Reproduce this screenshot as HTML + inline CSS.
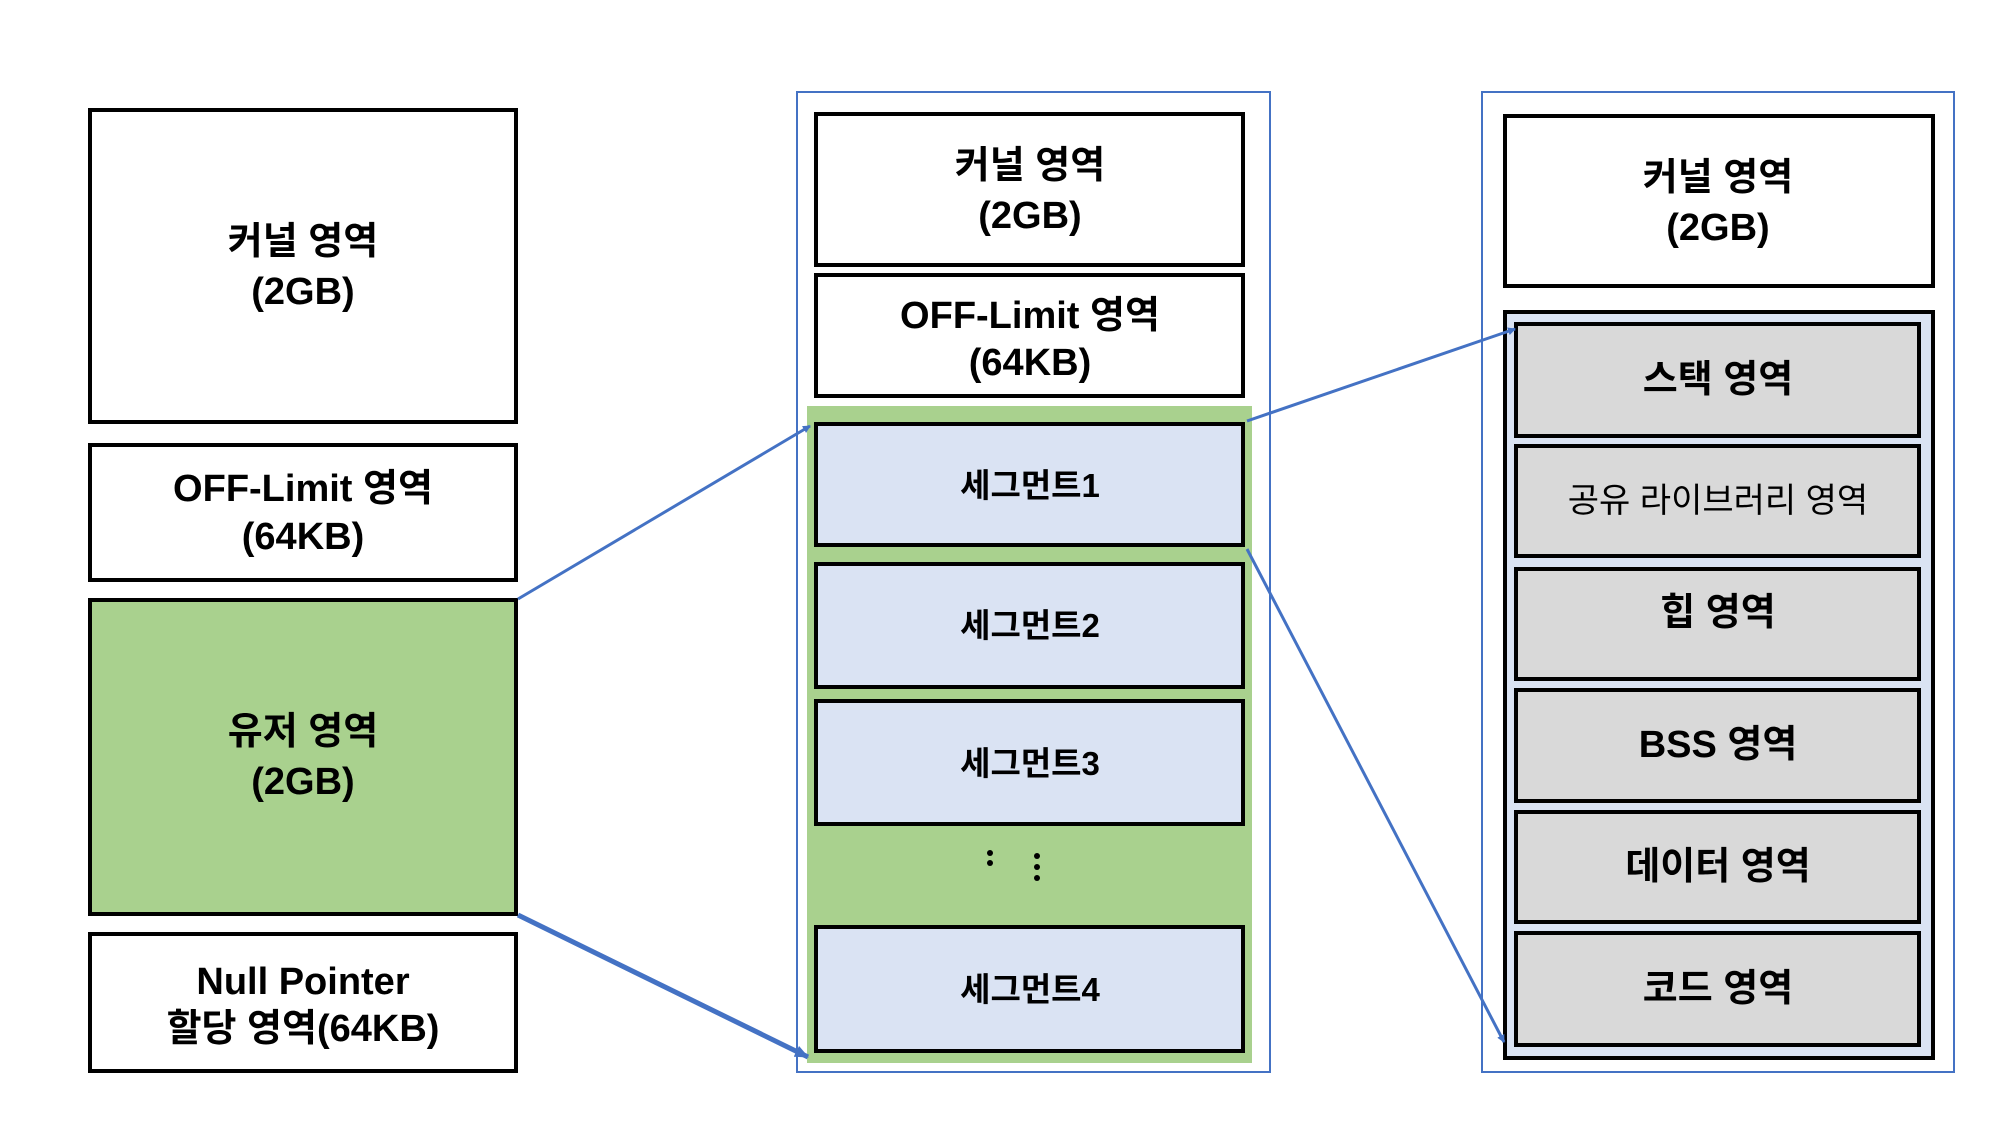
<!DOCTYPE html>
<html><head><meta charset="utf-8"><style>
html,body{margin:0;padding:0;background:#fff}
svg text{font-family:"Liberation Sans","Noto Sans CJK KR",sans-serif;font-weight:bold;fill:#000;text-anchor:middle}
</style></head><body>
<svg width="2000" height="1136" viewBox="0 0 2000 1136" xmlns="http://www.w3.org/2000/svg">
<defs>
<marker id="ah" markerWidth="8" markerHeight="8" refX="7" refY="4" orient="auto" markerUnits="userSpaceOnUse"><path d="M0,0 L8,4 L0,8 z" fill="#4472c4"/></marker>
<marker id="ah2" markerWidth="14" markerHeight="12" refX="13" refY="6" orient="auto" markerUnits="userSpaceOnUse"><path d="M0,0 L14,6 L0,12 z" fill="#4472c4"/></marker>
</defs>
<g stroke="#000" stroke-width="4">
<rect x="90" y="110" width="426" height="312" fill="#fff"/>
<rect x="90" y="445" width="426" height="135" fill="#fff"/>
<rect x="90" y="600" width="426" height="314" fill="#a9d18e"/>
<rect x="90" y="934" width="426" height="137" fill="#fff"/>
</g>
<g font-size="38">
<text x="303" y="254">커널 영역</text><text x="303" y="304">(2GB)</text>
<text x="303" y="501">OFF-Limit 영역</text><text x="303" y="549">(64KB)</text>
<text x="303" y="744">유저 영역</text><text x="303" y="794">(2GB)</text>
<text x="303" y="994">Null Pointer</text><text x="303" y="1041">할당 영역(64KB)</text>
</g>
<rect x="797" y="92" width="473" height="980" fill="none" stroke="#4472c4" stroke-width="2"/>
<rect x="807" y="406" width="445" height="657" fill="#a9d18e"/>
<g stroke="#000" stroke-width="4">
<rect x="816" y="114" width="427" height="151" fill="#fff"/>
<rect x="816" y="275" width="427" height="121" fill="#fff"/>
<rect x="816" y="424" width="427" height="121" fill="#dae3f3"/>
<rect x="816" y="564" width="427" height="123" fill="#dae3f3"/>
<rect x="816" y="701" width="427" height="123" fill="#dae3f3"/>
<rect x="816" y="927" width="427" height="124" fill="#dae3f3"/>
</g>
<g font-size="38">
<text x="1030" y="178">커널 영역</text><text x="1030" y="228">(2GB)</text>
<text x="1030" y="328">OFF-Limit 영역</text><text x="1030" y="375">(64KB)</text>
</g>
<g font-size="33">
<text x="1030" y="497">세그먼트1</text>
<text x="1030" y="637">세그먼트2</text>
<text x="1030" y="775">세그먼트3</text>
<text x="1030" y="1001">세그먼트4</text>
</g>
<g fill="#000"><circle cx="990" cy="853" r="3"/><circle cx="990" cy="863" r="3"/><circle cx="1037" cy="856" r="3"/><circle cx="1037" cy="867" r="3"/><circle cx="1037" cy="878" r="3"/></g>
<rect x="1482" y="92" width="472" height="980" fill="none" stroke="#4472c4" stroke-width="2"/>
<g stroke="#000" stroke-width="4">
<rect x="1505" y="116" width="428" height="170" fill="#fff"/>
<rect x="1505" y="312" width="428" height="746" fill="#dae3f3"/>
<rect x="1516" y="324" width="403" height="112" fill="#d9d9d9"/>
<rect x="1516" y="446" width="403" height="110" fill="#d9d9d9"/>
<rect x="1516" y="569" width="403" height="110" fill="#d9d9d9"/>
<rect x="1516" y="690" width="403" height="111" fill="#d9d9d9"/>
<rect x="1516" y="812" width="403" height="110" fill="#d9d9d9"/>
<rect x="1516" y="933" width="403" height="112" fill="#d9d9d9"/>
</g>
<g font-size="38">
<text x="1718" y="190">커널 영역</text><text x="1718" y="240">(2GB)</text>
<text x="1718" y="392">스택 영역</text>
<text x="1718" y="625" >힙 영역</text>
<text x="1718" y="757">BSS 영역</text>
<text x="1718" y="879">데이터 영역</text>
<text x="1718" y="1001">코드 영역</text>
</g>
<text x="1718" y="512" font-size="34" style="font-weight:normal">공유 라이브러리 영역</text>
<g stroke="#4472c4" fill="none">
<line x1="518" y1="599" x2="810" y2="426" stroke-width="3" marker-end="url(#ah)"/>
<line x1="518" y1="915" x2="808" y2="1057" stroke-width="5" marker-end="url(#ah2)"/>
<line x1="1247" y1="421" x2="1515" y2="329" stroke-width="3" marker-end="url(#ah)"/>
<line x1="1247" y1="549" x2="1504" y2="1042" stroke-width="3" marker-end="url(#ah)"/>
</g>
</svg>
</body></html>
